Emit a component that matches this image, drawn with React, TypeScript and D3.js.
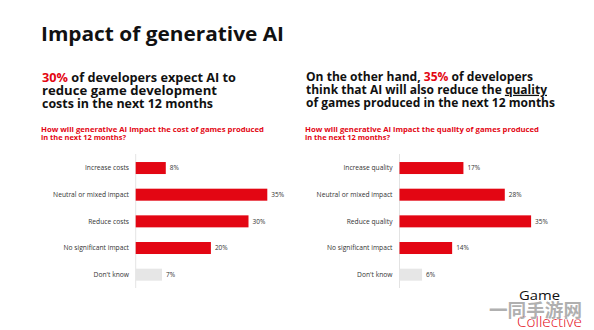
import React from "react";
import * as d3 from "d3";

const costCategories = ["Increase costs", "Neutral or mixed impact", "Reduce costs", "No significant impact", "Don't know"];
const costValues = [8, 35, 30, 20, 7];
const qualityCategories = ["Increase quality", "Neutral or mixed impact", "Reduce quality", "No significant impact", "Don't know"];
const qualityValues = [17, 28, 35, 14, 6];
const highlight = [true, true, true, true, false];

const RED = "#e30613";
const GREY_BAR = "#e6e6e6";
const FONT = "'Open Sans', 'DejaVu Sans', sans-serif";

function BarPanel({ cats, vals, axisX, labelX }: { cats: string[]; vals: number[]; axisX: number; labelX: number }) {
  const x = d3.scaleLinear().domain([0, 35]).range([axisX, axisX + 131.6]);
  const y = d3.scalePoint<string>().domain(cats).range([154.7, 288]).padding(0.5);
  const barH = 12;
  return (
    <g>
      <line x1={axisX} x2={axisX} y1={154} y2={288} stroke="#dcdcdc" strokeWidth={0.8} />
      {cats.map((c, i) => {
        const cy = y(c) as number;
        return (
          <g key={c}>
            <text x={labelX} y={cy} dy="0.35em" textAnchor="end" fontSize={6.7} fill="#333" fontFamily={FONT}>
              {c}
            </text>
            <rect x={axisX} y={cy - barH / 2} width={x(vals[i]) - axisX} height={barH} fill={highlight[i] ? RED : GREY_BAR} />
            <text x={x(vals[i]) + 4} y={cy} dy="0.35em" fontSize={6.5} fill="#333" fontFamily={FONT}>
              {vals[i]}%
            </text>
          </g>
        );
      })}
    </g>
  );
}

export default function App() {
  return (
    <svg width={594} height={330} style={{ position: "absolute", left: 0, top: 0, background: "#fff" }}>
      <rect width={594} height={330} fill="#fff" />
      <text x={41} y={40.7} fontSize={19} fontWeight={700} fill="#111" fontFamily={FONT} textLength={243} lengthAdjust="spacingAndGlyphs">
        Impact of generative AI
      </text>

      {/* Left subtitle */}
      <g fontFamily={FONT} fontWeight={700} fontSize={12.5} fill="#111">
        <text x={42} y={81.5} textLength={194} lengthAdjust="spacingAndGlyphs">
          <tspan fill={RED}>30%</tspan> of developers expect AI to
        </text>
        <text x={42} y={94.8} textLength={175} lengthAdjust="spacingAndGlyphs">reduce game development</text>
        <text x={42} y={108} textLength={171} lengthAdjust="spacingAndGlyphs">costs in the next 12 months</text>
      </g>

      {/* Right subtitle */}
      <g fontFamily={FONT} fontWeight={700} fontSize={12.5} fill="#111">
        <text x={306} y={80.5} textLength={227} lengthAdjust="spacingAndGlyphs">
          On the other hand, <tspan fill={RED}>35%</tspan> of developers
        </text>
        <text x={306} y={93.8} textLength={241} lengthAdjust="spacingAndGlyphs">
          think that AI will also reduce the <tspan style={{ textDecoration: "underline" }}>quality</tspan>
        </text>
        <text x={306} y={107} textLength={249} lengthAdjust="spacingAndGlyphs">of games produced in the next 12 months</text>
      </g>

      {/* Questions */}
      <g fontFamily={FONT} fontWeight={700} fontSize={7.4} fill={RED}>
        <text x={41} y={131.5} textLength={223} lengthAdjust="spacingAndGlyphs">How will generative AI impact the cost of games produced</text>
        <text x={41} y={140} textLength={85} lengthAdjust="spacingAndGlyphs">in the next 12 months?</text>
        <text x={305} y={131.5} textLength={234} lengthAdjust="spacingAndGlyphs">How will generative AI impact the quality of games produced</text>
        <text x={305} y={140} textLength={85} lengthAdjust="spacingAndGlyphs">in the next 12 months?</text>
      </g>

      <BarPanel cats={costCategories} vals={costValues} axisX={135.7} labelX={129} />
      <BarPanel cats={qualityCategories} vals={qualityValues} axisX={399.5} labelX={392.5} />

      {/* Logo */}
      <text x={519} y={300} fontSize={12.5} fontWeight={500} fill="#111" fontFamily={FONT} textLength={41} lengthAdjust="spacingAndGlyphs">
        Game
      </text>
      <text x={517} y={327} fontSize={14} fontWeight={300} fill={RED} fontFamily={FONT} textLength={65} lengthAdjust="spacingAndGlyphs">
        Collective
      </text>
      {/* Watermark */}
      <text x={489} y={317} fontSize={18.5} fontWeight={700} fill="#9a9a9a" fillOpacity={0.8} stroke="#fff" strokeWidth={1} paintOrder="stroke" fontFamily="'Noto Sans CJK SC', sans-serif" textLength={93} lengthAdjust="spacingAndGlyphs">
        一同手游网
      </text>
    </svg>
  );
}
